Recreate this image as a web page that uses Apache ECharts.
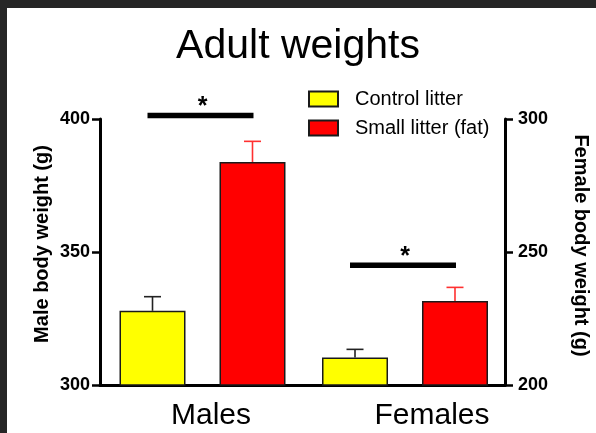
<!DOCTYPE html>
<html><head><meta charset="utf-8">
<script src="https://cdn.jsdelivr.net/npm/echarts@6/dist/echarts.min.js"></script>
<style>html,body{margin:0;padding:0;background:#fff}#c{width:596px;height:433px}</style>
</head><body><div id="c"></div>
<script>
// ---- data ----
const categories = ['Males', 'Females'];
const seriesNames = ['Control litter', 'Small litter (fat)'];
const controlMeans = [327.9, 210.3];
const controlErrors = [5.3, 3.1];
const smallMeans = [383.8, 231.6];
const smallErrors = [7.8, 5.1];
const sigLevels = [401.3, 245.0];        // y level of significance bar (per axis)
const sigLabels = ['*', '*'];
const maleTicks = [300, 350, 400];
const femaleTicks = [200, 250, 300];
const axisNames = ['Male body weight (g)', 'Female body weight (g)'];

// ---- style ----
const FONT = 'Liberation Sans, Arial, Helvetica, sans-serif';
const BAR_W = 66, GAP = 0.515;
const SPACING = BAR_W * (1 + GAP);
const colors = ['#ffff00', '#ff0000'];
const errColors = ['#222222', '#ff3030'];

const chart = echarts.init(document.getElementById('c'), null, {renderer: 'canvas'});

function errRender(colorIdx) {
  return function (params, api) {
    const cat = api.value(0), mean = api.value(1), err = api.value(2), side = api.value(3);
    const p0 = api.coord([cat, mean]);
    const p1 = api.coord([cat, mean + err]);
    const x = p0[0] + side * SPACING / 2;
    const st = {stroke: errColors[colorIdx], lineWidth: 1.6};
    return {type: 'group', children: [
      {type: 'line', shape: {x1: x, y1: p0[1], x2: x, y2: p1[1]}, style: st},
      {type: 'line', shape: {x1: x - 8.5, y1: p1[1], x2: x + 8.5, y2: p1[1]}, style: st}
    ]};
  };
}
function sigRender(params, api) {
  const p = api.coord([api.value(0), api.value(1)]);
  const x1 = p[0] - SPACING / 2 - 5, x2 = p[0] + SPACING / 2 + 1;
  return {type: 'group', children: [
    {type: 'rect', shape: {x: x1, y: p[1] - 2.8, width: x2 - x1, height: 5.6}, style: {fill: '#000'}},
    {type: 'text', style: {text: sigLabels[params.dataIndex] || '*', x: (x1 + x2) / 2 + 2, y: p[1] + 4,
      fill: '#000', font: 'bold 25px ' + FONT, textAlign: 'center', textVerticalAlign: 'bottom'}}
  ]};
}

const axisLineStyle = {color: '#000', width: 3};
function xAx(i, padLeft) {
  return {gridIndex: i, type: 'category', data: [categories[i]],
    axisLine: {show: true, lineStyle: axisLineStyle}, axisTick: {show: false},
    axisLabel: {fontSize: 30, color: '#000', fontFamily: FONT, margin: 16, padding: [0, 0, 0, padLeft]}};
}
function yAx(i, ticks, pos, nameGap, nameRotate, namePad) {
  return {gridIndex: i, type: 'value', position: pos, min: ticks[0], max: ticks[ticks.length - 1],
    interval: ticks[1] - ticks[0],
    axisLine: {show: true, lineStyle: axisLineStyle},
    axisTick: {show: true, inside: false, length: 8, lineStyle: {color: '#000', width: 2.5}},
    axisLabel: {fontSize: 18, fontWeight: 'bold', color: '#000', fontFamily: FONT, margin: pos === 'left' ? 10 : 13},
    splitLine: {show: false},
    name: axisNames[i], nameLocation: 'middle', nameGap: nameGap, nameRotate: nameRotate,
    nameTextStyle: {fontSize: 20, fontWeight: 'bold', color: '#000', fontFamily: FONT, padding: namePad}};
}
const barStyle = (c) => ({color: c, borderColor: '#1a1a1a', borderWidth: 1.5});

const option = {
  animation: false,
  backgroundColor: '#fff',
  title: {text: 'Adult weights', left: 'center', top: 21,
    textStyle: {fontSize: 41, fontWeight: 'normal', color: '#000', fontFamily: FONT}},
  legend: {orient: 'vertical', left: 308, top: 89, itemWidth: 29, itemHeight: 15, itemGap: 9,
    padding: 0, icon: 'rect', data: seriesNames,
    textStyle: {fontSize: 20, color: '#000', fontFamily: FONT, padding: [0, 0, 0, 12]}},
  grid: [
    {left: 100, top: 119, width: 205, height: 266},
    {left: 305, top: 119, width: 200, height: 266}
  ],
  xAxis: [xAx(0, 17), xAx(1, 54)],
  yAxis: [yAx(0, maleTicks, 'left', 48, 90, [0, 0, 0, 16]),
          yAx(1, femaleTicks, 'right', 66, -90, [0, 13, 0, 0])],
  series: [
    {name: seriesNames[0], type: 'bar', xAxisIndex: 0, yAxisIndex: 0, data: [controlMeans[0]],
      barWidth: BAR_W, barGap: (GAP * 100) + '%', itemStyle: barStyle(colors[0])},
    {name: seriesNames[1], type: 'bar', xAxisIndex: 0, yAxisIndex: 0, data: [smallMeans[0]],
      barWidth: BAR_W, barGap: (GAP * 100) + '%', itemStyle: barStyle(colors[1])},
    {name: seriesNames[0], type: 'bar', xAxisIndex: 1, yAxisIndex: 1, data: [controlMeans[1]],
      barWidth: BAR_W, barGap: (GAP * 100) + '%', itemStyle: barStyle(colors[0])},
    {name: seriesNames[1], type: 'bar', xAxisIndex: 1, yAxisIndex: 1, data: [smallMeans[1]],
      barWidth: BAR_W, barGap: (GAP * 100) + '%', itemStyle: barStyle(colors[1])},
    {type: 'custom', xAxisIndex: 0, yAxisIndex: 0, z: 1, renderItem: errRender(0),
      data: [[0, controlMeans[0], controlErrors[0], -1]]},
    {type: 'custom', xAxisIndex: 0, yAxisIndex: 0, z: 1, renderItem: errRender(1),
      data: [[0, smallMeans[0], smallErrors[0], 1]]},
    {type: 'custom', xAxisIndex: 1, yAxisIndex: 1, z: 1, renderItem: errRender(0),
      data: [[0, controlMeans[1], controlErrors[1], -1]]},
    {type: 'custom', xAxisIndex: 1, yAxisIndex: 1, z: 1, renderItem: errRender(1),
      data: [[0, smallMeans[1], smallErrors[1], 1]]},
    {type: 'custom', xAxisIndex: 0, yAxisIndex: 0, renderItem: sigRender, data: [[0, sigLevels[0]]]},
    {type: 'custom', xAxisIndex: 1, yAxisIndex: 1, renderItem: sigRender, data: [[0, sigLevels[1]]]}
  ],
  graphic: [
    {type: 'rect', shape: {x: 0, y: 0, width: 596, height: 8}, style: {fill: '#262626'}, z: 100},
    {type: 'rect', shape: {x: 0, y: 0, width: 7, height: 433}, style: {fill: '#262626'}, z: 100}
  ]
};
chart.setOption(option);
</script></body></html>
